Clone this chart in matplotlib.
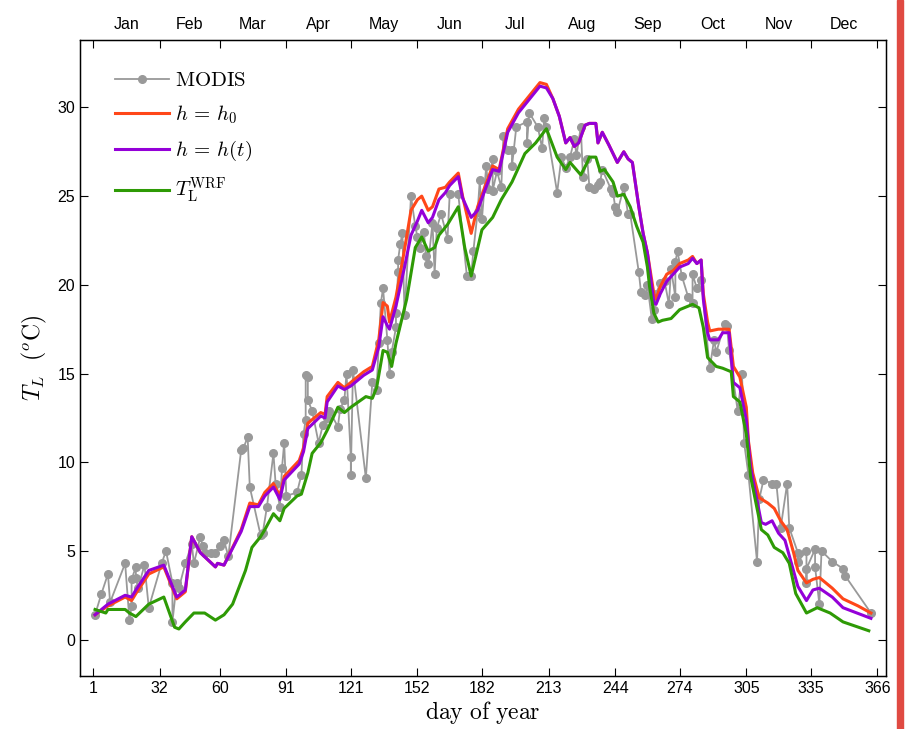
import numpy as np
import matplotlib
matplotlib.use('Agg')
import matplotlib.pyplot as plt
from matplotlib.patches import Rectangle

plt.rcParams['font.family'] = ['Liberation Sans', 'DejaVu Sans']
plt.rcParams['mathtext.fontset'] = 'cm'

# day of year / land surface temperature (deg C)
modis_day = [2, 5, 8, 9, 16, 18, 19, 19, 21, 21, 22, 25, 27, 33, 35, 38, 38, 40, 41, 44,
             47, 48, 51, 52, 53, 56, 58, 60, 62, 64, 70, 71, 73, 74, 79, 80, 82, 85, 86, 88,
             89, 90, 91, 96, 98, 99, 100, 100, 101, 101, 103, 106, 108, 110, 111, 115, 116,
             118, 119, 121, 121, 122, 128, 131, 133, 134, 135, 136, 138, 139, 140, 142, 142,
             143, 143, 144, 145, 146, 149, 151, 152, 153, 155, 156, 157, 159, 160, 161, 163,
             166, 167, 171, 175, 177, 178, 180, 181, 182, 184, 185, 187, 187, 189, 191, 192,
             194, 196, 196, 198, 203, 203, 204, 208, 210, 211, 212, 217, 219, 221, 223, 225,
             226, 228, 229, 231, 232, 234, 236, 237, 238, 242, 243, 244, 245, 248, 250, 251,
             255, 256, 258, 259, 261, 262, 263, 265, 267, 269, 270, 272, 272, 273, 275, 278,
             280, 280, 282, 284, 288, 290, 291, 295, 296, 297, 301, 303, 304, 306, 310, 311,
             313, 317, 319, 321, 324, 325, 329, 329, 333, 333, 333, 337, 337, 339, 340, 345,
             350, 351, 363]
modis_val = [1.4, 2.6, 3.7, 2.1, 4.3, 1.1, 1.9, 3.4, 4.1, 3.5, 2.9, 4.2, 1.8, 4.3, 5.0, 3.2,
             1.0, 3.2, 2.9, 4.3, 5.4, 4.3, 5.8, 5.3, 4.9, 4.9, 4.9, 5.3, 5.6, 4.7, 10.7, 10.8,
             11.4, 8.6, 5.9, 6.0, 7.5, 10.5, 8.8, 7.5, 9.7, 11.1, 8.1, 8.3, 9.3, 11.6, 12.4,
             14.9, 14.8, 13.5, 12.9, 11.1, 12.1, 12.5, 12.9, 12.0, 13.0, 13.5, 15.0, 10.3, 9.3,
             15.2, 9.1, 14.5, 14.1, 16.7, 19.0, 19.8, 16.9, 15.0, 16.2, 17.6, 18.4, 20.7, 21.4,
             22.3, 22.9, 18.3, 25.0, 23.3, 22.7, 22.1, 23.0, 21.6, 21.2, 23.5, 20.6, 23.2, 24.0,
             22.6, 25.1, 25.1, 20.5, 20.5, 21.9, 24.1, 25.9, 23.7, 26.7, 25.4, 27.1, 25.3, 26.4,
             25.5, 28.4, 27.6, 27.6, 26.7, 28.9, 29.2, 28.0, 29.7, 28.9, 27.7, 29.4, 28.9, 25.2,
             27.2, 26.6, 27.2, 28.2, 27.3, 28.9, 26.1, 27.1, 25.5, 25.4, 25.6, 25.8, 26.5, 25.4,
             25.2, 24.4, 24.1, 25.5, 24.0, 24.0, 20.7, 19.6, 19.4, 20.0, 18.1, 18.6, 19.5, 20.1,
             20.2, 18.9, 20.9, 19.3, 21.3, 21.9, 20.5, 19.3, 19.0, 20.6, 19.8, 20.3, 15.3, 16.9,
             16.2, 17.8, 17.7, 16.3, 12.9, 15.0, 11.1, 9.3, 4.4, 7.9, 9.0, 8.8, 8.8, 6.3, 8.8,
             6.3, 4.9, 4.4, 5.0, 3.2, 4.0, 5.1, 4.1, 2.0, 5.0, 4.4, 4.0, 3.6, 1.5]

h0_day = [2, 8, 16, 19, 21, 27, 34, 40, 44, 47, 51, 58, 59, 62, 70, 74, 78, 81, 85, 88, 90,
          97, 99, 101, 107, 109, 110, 115, 118, 121, 127, 131, 134, 136, 138, 139, 142, 146,
          149, 152, 154, 157, 159, 162, 165, 167, 171, 173, 177, 180, 183, 187, 190, 194, 199,
          205, 209, 212, 215, 218, 221, 223, 225, 227, 230, 232, 235, 236, 238, 241, 243, 245,
          248, 250, 252, 255, 257, 259, 262, 263, 265, 268, 271, 274, 278, 280, 282, 284, 285,
          287, 288, 292, 294, 297, 299, 302, 305, 306, 308, 311, 315, 318, 321, 324, 327, 329,
          333, 336, 339, 345, 350, 357, 363]
h0_val = [1.4, 1.9, 2.4, 2.2, 2.6, 3.7, 4.1, 2.3, 2.7, 5.8, 4.9, 4.1, 4.3, 4.2, 6.2, 7.7, 7.6,
          8.3, 8.8, 8.1, 9.2, 10.1, 10.8, 12.2, 12.8, 12.7, 13.7, 14.5, 14.2, 14.5, 15.1, 15.4,
          16.9, 19.0, 18.8, 17.9, 19.3, 22.0, 24.2, 24.8, 25.0, 24.2, 24.4, 25.4, 25.5, 25.8,
          26.3, 25.0, 22.9, 24.4, 25.4, 26.7, 26.5, 28.8, 29.9, 30.8, 31.4, 31.3, 30.5, 29.5,
          28.0, 28.3, 27.8, 28.0, 29.0, 29.1, 29.1, 28.0, 28.6, 27.9, 27.4, 26.9, 27.5, 27.1,
          26.9, 24.4, 22.9, 21.8, 19.5, 19.2, 19.9, 20.6, 20.8, 21.2, 21.4, 21.6, 21.2, 21.4,
          19.5, 17.9, 17.4, 17.5, 17.5, 17.5, 15.4, 14.8, 13.1, 11.2, 9.4, 8.0, 7.7, 7.4, 6.7,
          6.2, 4.9, 3.9, 3.2, 3.4, 3.5, 2.9, 2.3, 1.9, 1.5]

ht_day = [2, 8, 16, 19, 21, 27, 34, 40, 44, 47, 51, 58, 59, 62, 70, 74, 78, 81, 85, 88, 90,
          97, 99, 101, 107, 109, 110, 115, 118, 121, 127, 131, 134, 136, 138, 139, 142, 146,
          149, 152, 154, 157, 159, 162, 165, 167, 171, 173, 177, 180, 183, 187, 190, 194, 199,
          205, 209, 212, 215, 218, 221, 223, 225, 227, 230, 232, 235, 236, 238, 241, 243, 245,
          248, 250, 252, 255, 257, 259, 262, 263, 265, 268, 271, 274, 278, 280, 282, 284, 285,
          287, 288, 292, 294, 297, 299, 302, 305, 307, 312, 314, 317, 320, 323, 326, 329, 333,
          336, 339, 345, 350, 363]
ht_val = [1.4, 2.0, 2.5, 2.4, 2.8, 3.9, 4.2, 2.4, 2.8, 5.8, 4.9, 4.1, 4.3, 4.2, 6.1, 7.5, 7.5,
          8.1, 8.6, 7.9, 9.0, 9.9, 10.6, 11.9, 12.6, 12.5, 13.4, 14.3, 14.1, 14.3, 14.9, 15.2,
          16.5, 18.2, 17.7, 17.5, 18.8, 21.0, 22.8, 23.6, 24.2, 23.5, 23.8, 24.8, 25.2, 25.6,
          26.1, 24.9, 23.8, 24.2, 25.2, 26.5, 26.4, 28.6, 29.7, 30.6, 31.2, 31.1, 30.5, 29.5,
          28.0, 28.3, 27.8, 28.0, 29.0, 29.1, 29.1, 28.0, 28.6, 27.9, 27.4, 26.9, 27.5, 27.1,
          26.9, 24.4, 22.9, 21.8, 19.0, 18.9, 19.5, 20.2, 20.6, 21.0, 21.2, 21.5, 21.2, 21.4,
          19.2, 17.3, 16.9, 16.9, 17.3, 17.3, 14.5, 14.2, 12.4, 9.7, 6.6, 6.5, 6.7, 6.0, 5.6,
          4.3, 3.0, 2.2, 2.8, 2.9, 2.4, 1.8, 1.2]

wrf_day = [2, 7, 8, 16, 18, 21, 27, 34, 39, 41, 44, 48, 51, 53, 58, 62, 66, 72, 75, 79, 81,
           85, 88, 90, 96, 98, 101, 103, 107, 110, 115, 118, 121, 128, 131, 133, 136, 138, 140,
           142, 147, 151, 154, 157, 160, 162, 166, 171, 174, 177, 182, 187, 191, 196, 202, 207,
           212, 217, 221, 223, 228, 231, 232, 235, 237, 239, 243, 245, 248, 251, 254, 257, 259,
           260, 262, 264, 266, 270, 274, 278, 280, 283, 285, 287, 291, 294, 298, 299, 302, 305,
           307, 312, 315, 318, 322, 325, 328, 333, 338, 344, 350, 362]
wrf_val = [1.7, 1.5, 1.7, 1.7, 1.5, 1.3, 2.0, 2.4, 0.7, 0.6, 1.0, 1.5, 1.5, 1.5, 1.1, 1.4, 2.0,
           3.9, 5.2, 5.8, 6.2, 7.1, 6.7, 7.4, 8.1, 8.2, 9.4, 10.5, 11.1, 11.8, 13.1, 12.8, 13.1,
           13.7, 13.6, 14.2, 16.3, 16.2, 15.4, 16.7, 19.2, 22.1, 22.7, 21.9, 22.1, 22.8, 23.4,
           24.4, 22.1, 20.5, 23.1, 23.8, 24.8, 25.8, 27.4, 28.0, 28.8, 27.2, 26.5, 26.9, 26.2,
           26.9, 27.2, 27.2, 26.4, 26.5, 25.8, 25.0, 25.1, 24.4, 23.3, 22.4, 21.0, 19.9, 18.4,
           17.9, 18.0, 18.1, 18.6, 18.8, 18.9, 18.7, 17.6, 15.9, 15.4, 15.3, 15.1, 13.7, 13.4,
           11.6, 9.2, 6.2, 5.9, 5.2, 4.9, 4.3, 2.6, 1.5, 1.8, 1.5, 1.0, 0.5]

month_start = [1, 32, 60, 91, 121, 152, 182, 213, 244, 274, 305, 335, 366]
month_names = ['Jan', 'Feb', 'Mar', 'Apr', 'May', 'Jun', 'Jul', 'Aug', 'Sep', 'Oct', 'Nov', 'Dec']
yticks = [0, 5, 10, 15, 20, 25, 30]

fig = plt.figure(figsize=(9.05, 7.29), dpi=100)
ax = fig.add_axes([0.0884, 0.0727, 0.8906, 0.8724])

ax.plot(modis_day, modis_val, '-', color='#999999', lw=1.3, marker='o', ms=5.5,
        label=r'$\mathrm{MODIS}$')
ax.plot(h0_day, h0_val, color='#FF4719', lw=2.2, label=r'$h\,=\,h_0$')
ax.plot(ht_day, ht_val, color='#9400D8', lw=2.2, label=r'$h\,=\,h(t)$')
ax.plot(wrf_day, wrf_val, color='#2E9A05', lw=2.2, label=r'$T_{\mathrm{L}}^{\mathrm{WRF}}$')

ax.set_xlim(-5, 370)
ax.set_ylim(-2.05, 33.8)
ax.set_xticks(month_start)
ax.set_yticks(yticks)
ax.tick_params(direction='in', length=6, labelsize=11.5, top=False, right=True)
ax.set_xlabel(r'$\mathrm{day\ of\ year}$', fontsize=17, labelpad=2)
ax.set_ylabel(r'$T_L\ \ (^o\mathrm{C})$', fontsize=17, labelpad=6)
for s in ax.spines.values():
    s.set_linewidth(1.0)

top = ax.twiny()
top.set_xlim(ax.get_xlim())
top.set_xticks(month_start)
top.set_xticklabels([])
mids = [(month_start[i] + month_start[i + 1]) / 2 for i in range(12)]
top.set_xticks(mids, minor=True)
top.set_xticklabels(month_names, minor=True)
top.tick_params(which='major', direction='in', length=6)
top.tick_params(which='minor', length=0, labelsize=11.5, pad=6)

leg = ax.legend(loc='upper left', bbox_to_anchor=(0.02, 0.98), frameon=False,
                fontsize=15, handlelength=2.6, handletextpad=0.3, labelspacing=0.62)

fig.patches.append(Rectangle((0.991, 0.0), 0.007, 1.0, transform=fig.transFigure,
                             color='#E04A42', zorder=5))

fig.savefig('out.png', dpi=100)
